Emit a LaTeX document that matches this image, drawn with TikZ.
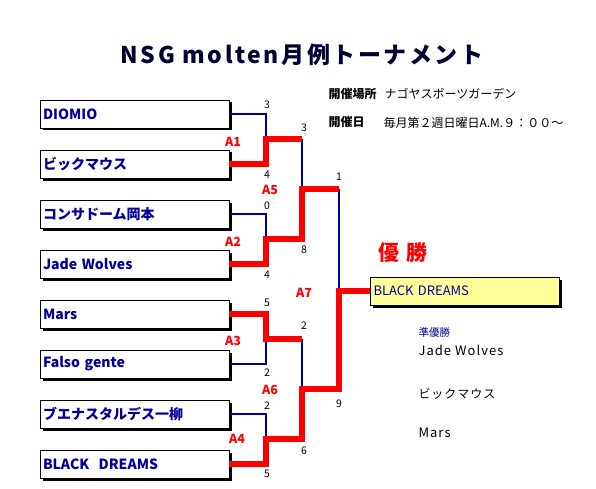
\documentclass[tikz,border=0pt]{standalone}
\usepackage{fontspec}
\setmainfont{Noto Sans CJK JP}
\newfontfamily\titlefont[LetterSpace=11]{Noto Sans CJK JP}
\newfontfamily\widefont[LetterSpace=8]{Noto Sans CJK JP}
\usetikzlibrary{shadows}
\definecolor{teamblue}{RGB}{0,0,153}
\definecolor{titlenavy}{RGB}{0,0,51}
\definecolor{paleyellow}{RGB}{255,255,153}
\begin{document}
\begin{tikzpicture}[x=1pt, y=-1pt, line join=miter, line cap=butt,
		team/.style={draw=black, fill=white, drop shadow={shadow xshift=2.5pt, shadow yshift=-2.5pt, fill=black, opacity=1},
			minimum width=189pt, minimum height=28pt, text width=183pt, inner sep=3pt, align=left,
			text=teamblue, font=\fontsize{14}{16}\selectfont\bfseries},
		champ/.style={team, fill=paleyellow, font=\fontsize{13}{15}\selectfont},
		lose/.style={draw=teamblue, line width=2pt},
		win/.style={draw=red, line width=5.5pt},
		score/.style={font=\fontsize{10.5}{11}\selectfont},
		game/.style={text=red, font=\fontsize{12.5}{13}\selectfont\bfseries}]
		\useasboundingbox (0,0) rectangle (596,489);
		\node[anchor=base, text=titlenavy, font=\titlefont\fontsize{23}{25}\selectfont\bfseries] (title) at (302,64) {NSG molten月例トーナメント};
		\node[anchor=base west, font=\fontsize{12}{12}\selectfont\bfseries] (placelbl) at (325,98.5) {開催場所};
		\node[anchor=base west, font=\fontsize{12}{12}\selectfont] (place) at (381,98.5) {ナゴヤスポーツガーデン};
		\node[anchor=base west, font=\fontsize{12}{12}\selectfont\bfseries] (datelbl) at (325,126.5) {開催日};
		\node[anchor=base west, font=\fontsize{12}{12}\selectfont] (date) at (380,128) {毎月第２週日曜日A.M.９：００～};
		% teams
		\node[team] (t1) at (134.5,114) {DIOMIO};
		\node[team] (t2) at (134.5,164) {ビックマウス};
		\node[team] (t3) at (134.5,214) {コンサドーム岡本};
		\node[team] (t4) at (134.5,264) {Jade Wolves};
		\node[team] (t5) at (134.5,314) {Mars};
		\node[team] (t6) at (134.5,364) {Falso gente};
		\node[team] (t7) at (134.5,414) {ブエナスタルデス一柳};
		\node[team] (t8) at (134.5,464) {BLACK\ \ DREAMS};
		\node[champ] (ch) at (465,291) {BLACK DREAMS};
		\coordinate (a1) at (266,139);
		\coordinate (a2) at (266,239);
		\coordinate (a3) at (266,339);
		\coordinate (a4) at (266,439);
		\coordinate (a5) at (302,189);
		\coordinate (a6) at (302,389);
		\coordinate (a7) at (339,291);
		\begin{scope}
			\draw[lose] (t1.east) -| (a1);
			\draw[lose] (t3.east) -| (a2);
			\draw[lose] (t6.east) -| (a3);
			\draw[lose] (t7.east) -| (a4);
			\draw[lose] (a1 -| a5) -- (a5);
			\draw[lose] (a3 -| a6) -- (a6);
			\draw[lose] (a5 -| a7) -- (a7);
			\draw[win] (t2.east) -| (a1) -- (a1 -| a5);
			\draw[win] (t4.east) -| (a2) -- (a2 -| a5) -- (a5) -- (a5 -| a7);
			\draw[win] (t5.east) -| (a3) -- (a3 -| a6);
			\draw[win] (t8.east) -| (a4) -- (a4 -| a6) -- (a6) -- (a6 -| a7) -- (a7) -- (ch.west);
		\end{scope}
		% scores
		\node[score] (s1) at (267,105) {3};
		\node[score] (s2) at (267,175) {4};
		\node[score] (s3) at (267,206) {0};
		\node[score] (s4) at (267,275) {4};
		\node[score] (s5) at (267,303) {5};
		\node[score] (s6) at (267,373) {2};
		\node[score] (s7) at (267,406) {2};
		\node[score] (s8) at (267,474) {5};
		\node[score] (s9) at (304,128) {3};
		\node[score] (s10) at (304,250) {8};
		\node[score] (s11) at (304,326) {2};
		\node[score] (s12) at (304,451) {6};
		\node[score] (s13) at (339,177) {1};
		\node[score] (s14) at (339,404) {9};
		% games
		\node[game] (g1) at (233,142) {A1};
		\node[game] (g2) at (233,242) {A2};
		\node[game] (g3) at (233,341) {A3};
		\node[game] (g4) at (237,439) {A4};
		\node[game] (g5) at (270,190) {A5};
		\node[game] (g6) at (270,390) {A6};
		\node[game] (g7) at (304,293) {A7};
		% results
		\node[anchor=base west, text=red, font=\fontsize{21}{21}\selectfont\bfseries] (winlbl) at (375,260) {優\hspace{7pt}勝};
		\node[anchor=base west, text=teamblue, font=\fontsize{10.5}{11}\selectfont] (secondlbl) at (415,336) {準優勝};
		\node[anchor=base west, font=\widefont\fontsize{13}{13}\selectfont] (second) at (415,355) {Jade Wolves};
		\node[anchor=base west, font=\widefont\fontsize{12}{12}\selectfont] (third1) at (415,398) {ビックマウス};
		\node[anchor=base west, font=\widefont\fontsize{13}{13}\selectfont] (third2) at (415,437) {Mars};
\end{tikzpicture}
\end{document}
